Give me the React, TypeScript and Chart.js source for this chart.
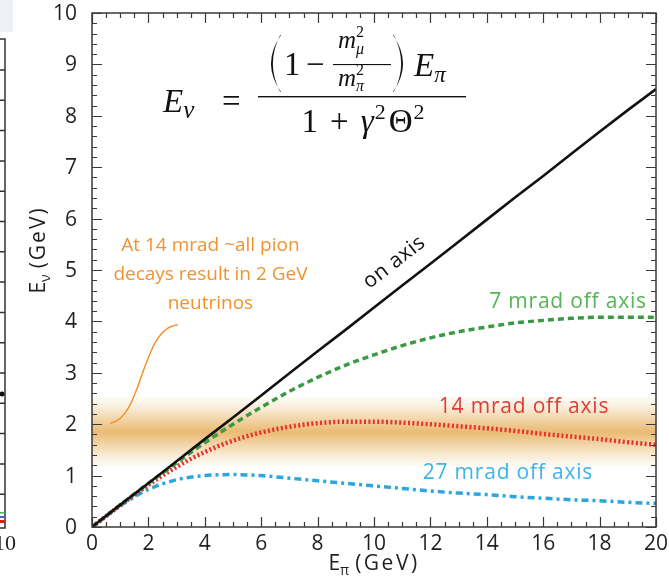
import React, { useEffect, useRef } from 'react';
import { Chart, registerables } from 'chart.js';
Chart.register(...registerables);

// ---------- data ----------
const ePion = [0, 1, 2, 3, 4, 5, 6, 7, 8, 9, 10, 11, 12, 13, 14, 15, 16, 17, 18, 19, 20];
const onAxis = [0, 0.43, 0.85, 1.28, 1.71, 2.13, 2.56, 2.99, 3.42, 3.84, 4.27, 4.7, 5.12, 5.55, 5.98, 6.41, 6.83, 7.26, 7.69, 8.11, 8.52];
const offAxis7 = [0, 0.43, 0.85, 1.25, 1.64, 2.0, 2.33, 2.64, 2.91, 3.15, 3.35, 3.53, 3.68, 3.8, 3.89, 3.97, 4.02, 4.06, 4.08, 4.08, 4.08];
const offAxis14 = [0, 0.42, 0.82, 1.17, 1.46, 1.68, 1.84, 1.95, 2.02, 2.05, 2.05, 2.03, 2.0, 1.96, 1.92, 1.87, 1.81, 1.76, 1.71, 1.65, 1.6];
const offAxis27 = [0, 0.41, 0.73, 0.92, 1.0, 1.02, 1.0, 0.95, 0.9, 0.85, 0.8, 0.75, 0.7, 0.66, 0.63, 0.59, 0.56, 0.53, 0.51, 0.48, 0.46];

const xTickStep = 2;
const yTickStep = 1;
const xRange = [0, 20];
const yRange = [0, 10];

const seriesNames = ['on axis', '7 mrad off axis', '14 mrad off axis', '27 mrad off axis'];
const bandRange = [1.15, 2.55];
const noteLines = ['At 14 mrad ~all pion', 'decays result in 2 GeV', 'neutrinos'];

// label anchors (data units)
const onAxisLabelAt = [10.72, 5.15];
const label7At = [16.88, 4.38];
const label14At = [15.32, 2.33];
const label27At = [14.75, 1.05];
const noteAt = [4.2, 5.47];
const noteCurve = [[0.64, 2.02], [1.8, 2.1], [1.75, 3.9], [3.05, 3.93]];

// ---------- styles ----------
const SANS = '"Open Sans", "Noto Sans", sans-serif';
const SERIF = '"Liberation Serif", "DejaVu Serif", serif';
const INK = '#231f20';
const BLACK = '#111111';
const GREEN = '#3a9a44';
const RED = '#e8302c';
const BLUE = '#2ba6de';
const GREEN_T = '#55b455';
const RED_T = '#e53a32';
const BLUE_T = '#3db3ea';
const ORANGE = '#f0932f';

const pts = (ys: number[]) => ePion.map((x, i) => ({ x, y: ys[i] }));

const bandPlugin = {
  id: 'band',
  beforeDatasetsDraw(chart: any) {
    const { ctx, chartArea, scales } = chart;
    const y = scales.y;
    const top = y.getPixelForValue(bandRange[1]);
    const bot = y.getPixelForValue(bandRange[0]);
    const g = ctx.createLinearGradient(0, top, 0, bot);
    g.addColorStop(0, 'rgba(228,170,80,0)');
    g.addColorStop(0.2, 'rgba(228,170,80,0.28)');
    g.addColorStop(0.5, 'rgba(228,170,80,0.8)');
    g.addColorStop(0.8, 'rgba(228,170,80,0.28)');
    g.addColorStop(1, 'rgba(228,170,80,0)');
    ctx.save();
    ctx.fillStyle = g;
    ctx.fillRect(chartArea.left, top, chartArea.right - chartArea.left, bot - top);
    ctx.restore();
  },
};

function textSpaced(ctx: any, t: string, x: number, y: number, spacing: string) {
  (ctx as any).letterSpacing = spacing;
  ctx.fillText(t, x, y);
  (ctx as any).letterSpacing = '0px';
}

const framePlugin = {
  id: 'frame',
  afterDatasetsDraw(chart: any) {
    const { ctx, chartArea, scales } = chart;
    const { left, right, top, bottom } = chartArea;
    const xs = scales.x, ys = scales.y;
    ctx.save();
    ctx.strokeStyle = '#3a3a3a';
    ctx.lineWidth = 1.5;
    ctx.strokeRect(left, top, right - left, bottom - top);
    ctx.lineWidth = 1.2;
    ctx.beginPath();
    for (let v = xRange[0]; v <= xRange[1] + 1e-6; v += 0.5) {
      const p = Math.round(xs.getPixelForValue(v)) + 0.5;
      const len = Math.abs(v % xTickStep) < 1e-6 ? 10 : 5;
      ctx.moveTo(p, bottom); ctx.lineTo(p, bottom - len);
      ctx.moveTo(p, top); ctx.lineTo(p, top + len);
    }
    for (let k = 0; k <= 50; k++) {
      const v = k * 0.2;
      const p = Math.round(ys.getPixelForValue(v)) + 0.5;
      const len = k % 5 === 0 ? 10 : 5;
      ctx.moveTo(left, p); ctx.lineTo(left + len, p);
      ctx.moveTo(right, p); ctx.lineTo(right - len, p);
    }
    ctx.stroke();

    // tick labels from the scales' own ticks
    ctx.fillStyle = INK;
    ctx.font = `21px ${SANS}`;
    ctx.textAlign = 'right';
    ctx.textBaseline = 'middle';
    for (const t of ys.ticks) ctx.fillText(String(t.value), left - 15, ys.getPixelForValue(t.value) + 1);
    ctx.textAlign = 'center';
    for (const t of xs.ticks) ctx.fillText(String(t.value), xs.getPixelForValue(t.value), bottom + 17);

    // annotation curve
    const P = noteCurve.map(([a, b]) => [xs.getPixelForValue(a), ys.getPixelForValue(b)]);
    ctx.strokeStyle = ORANGE;
    ctx.lineWidth = 1.5;
    ctx.beginPath();
    ctx.moveTo(P[0][0], P[0][1]);
    ctx.bezierCurveTo(P[1][0], P[1][1], P[2][0], P[2][1], P[3][0], P[3][1]);
    ctx.stroke();

    // note text
    ctx.fillStyle = ORANGE;
    ctx.font = `19px ${SANS}`;
    ctx.textAlign = 'center';
    ctx.textBaseline = 'middle';
    const nx = xs.getPixelForValue(noteAt[0]);
    const ny = ys.getPixelForValue(noteAt[1]);
    noteLines.forEach((t, i) => textSpaced(ctx, t, nx, ny + i * 29, '0px'));

    // series labels
    ctx.font = `21px ${SANS}`;
    const lbl = (t: string, at: number[], c: string) => {
      ctx.fillStyle = c;
      textSpaced(ctx, t, xs.getPixelForValue(at[0]), ys.getPixelForValue(at[1]), '0.8px');
    };
    lbl(seriesNames[1], label7At, GREEN_T);
    lbl(seriesNames[2], label14At, RED_T);
    lbl(seriesNames[3], label27At, BLUE_T);

    // on axis, rotated along the line
    const ang = Math.atan2(
      ys.getPixelForValue(onAxis[onAxis.length - 1]) - ys.getPixelForValue(onAxis[0]),
      xs.getPixelForValue(ePion[ePion.length - 1]) - xs.getPixelForValue(ePion[0])
    );
    ctx.save();
    ctx.translate(xs.getPixelForValue(onAxisLabelAt[0]), ys.getPixelForValue(onAxisLabelAt[1]));
    ctx.rotate(ang);
    ctx.fillStyle = BLACK;
    ctx.font = `21px ${SANS}`;
    textSpaced(ctx, seriesNames[0], 0, 0, '0.5px');
    ctx.restore();
    ctx.restore();
  },
};

function seq(ctx: any, x: number, y: number, parts: any[]) {
  for (const p of parts) {
    ctx.font = p.f;
    (ctx as any).letterSpacing = p.ls || '0px';
    ctx.fillText(p.t, x + (p.dx || 0), y + (p.dy || 0));
    if (!p.stack) x += ctx.measureText(p.t).width + (p.dx || 0) + (p.gap || 0);
  }
  (ctx as any).letterSpacing = '0px';
  return x;
}
function seqWidth(ctx: any, parts: any[]) {
  let w = 0;
  for (const p of parts) {
    ctx.font = p.f;
    (ctx as any).letterSpacing = p.ls || '0px';
    if (!p.stack) w += ctx.measureText(p.t).width + (p.dx || 0) + (p.gap || 0);
  }
  (ctx as any).letterSpacing = '0px';
  return w;
}
// thin tall parenthesis (crescent)
function paren(ctx: any, xEdge: number, yTop: number, yBot: number, dir: number) {
  const mid = (yTop + yBot) / 2;
  ctx.beginPath();
  ctx.moveTo(xEdge, yTop);
  ctx.quadraticCurveTo(xEdge - dir * 20, mid, xEdge, yBot);
  ctx.lineTo(xEdge - dir * 0.8, yBot);
  ctx.quadraticCurveTo(xEdge - dir * 15.5, mid, xEdge - dir * 0.8, yTop);
  ctx.closePath();
  ctx.fill();
}

const decoPlugin = {
  id: 'deco',
  afterDraw(chart: any) {
    const { ctx, chartArea } = chart;
    const { left, right } = chartArea;
    ctx.save();
    ctx.fillStyle = BLACK;
    ctx.textAlign = 'left';
    ctx.textBaseline = 'alphabetic';

    // ---- formula ----
    const it32 = `italic 33px ${SERIF}`;
    const up32 = `33px ${SERIF}`;
    const it22 = `italic 23px ${SERIF}`;
    const it24 = `italic 25px ${SERIF}`;
    const itm = `italic 25px ${SERIF}`;
    const up16 = `16px ${SERIF}`;
    const it16 = `italic 16px ${SERIF}`;
    const up22 = `22px ${SERIF}`;
    seq(ctx, 163, 112, [{ t: 'E', f: it32 }, { t: 'ν', f: it24, dy: 6 }]);
    seq(ctx, 222, 112, [{ t: '=', f: up32 }]);
    ctx.fillRect(258, 96, 208, 1.4);
    paren(ctx, 281, 35, 92, 1);
    seq(ctx, 284, 75, [{ t: '1', f: up32 }]);
    seq(ctx, 306, 75, [{ t: '−', f: up32 }]);
    // small fraction
    seq(ctx, 338, 48, [{ t: 'm', f: itm }, { t: '2', f: up16, dy: -11, stack: true }, { t: 'μ', f: it16, dy: 6 }]);
    ctx.fillRect(333, 64, 58, 1.1);
    seq(ctx, 338, 86, [{ t: 'm', f: itm }, { t: '2', f: up16, dy: -11, stack: true }, { t: 'π', f: it16, dy: 5 }]);
    paren(ctx, 393, 35, 92, -1);
    seq(ctx, 414, 76, [{ t: 'E', f: it32 }, { t: 'π', f: it22, dy: 6 }]);
    const den = [
      { t: '1', f: up32, gap: 12 }, { t: '+', f: up32, gap: 12 },
      { t: 'γ', f: it32, gap: 1 }, { t: '2', f: up22, dy: -13, gap: 3 },
      { t: 'Θ', f: up32, gap: 1 }, { t: '2', f: up22, dy: -13 },
    ];
    const dw = seqWidth(ctx, den);
    seq(ctx, 363 - dw / 2, 132, den);

    // ---- axis titles ----
    const sE = `21px ${SANS}`;
    const sSub = `14px ${SANS}`;
    const xt = [{ t: 'E', f: sE }, { t: 'π', f: sSub, dy: 5, gap: 6 }, { t: '(GeV)', f: sE, ls: '2.5px' }];
    ctx.fillStyle = INK;
    const xw = seqWidth(ctx, xt);
    seq(ctx, (left + right) / 2 - xw / 2, 570, xt);
    const yt = [{ t: 'E', f: sE }, { t: 'ν', f: sSub, dy: 5, gap: 6 }, { t: '(GeV)', f: sE, ls: '2px' }];
    const yw = seqWidth(ctx, yt);
    ctx.save();
    ctx.translate(45, 250);
    ctx.rotate(-Math.PI / 2);
    seq(ctx, -yw / 2, 0, yt);
    ctx.restore();

    // ---- fragment of neighbouring figure at the left edge ----
    ctx.fillStyle = '#eef0f8';
    ctx.fillRect(0, 0, 13, 32);
    ctx.strokeStyle = '#333';
    ctx.lineWidth = 1.5;
    ctx.beginPath();
    ctx.moveTo(0, 39); ctx.lineTo(5, 39); ctx.lineTo(5, 528); ctx.lineTo(0, 528);
    for (let yy = 70; yy < 520; yy += 30.3) { ctx.moveTo(0, yy); ctx.lineTo(5, yy); }
    ctx.stroke();
    ctx.fillStyle = '#111';
    ctx.beginPath(); ctx.arc(2, 394, 2.5, 0, Math.PI * 2); ctx.fill();
    ctx.fillStyle = '#4caf50'; ctx.fillRect(0, 512, 5, 1.5);
    ctx.fillStyle = '#5560c0'; ctx.fillRect(0, 516, 5, 2);
    ctx.fillStyle = '#d02020'; ctx.fillRect(0, 520, 5, 3);
    ctx.fillStyle = '#222';
    ctx.font = `22px ${SERIF}`;
    ctx.fillText('10', -6, 550);
    ctx.restore();
  },
};

export default function App() {
  const ref = useRef<HTMLCanvasElement>(null);
  useEffect(() => {
    const canvas = ref.current;
    if (!canvas) return;
    const chart = new Chart(canvas, {
      type: 'line',
      data: {
        datasets: [
          { label: seriesNames[0], data: pts(onAxis), borderColor: BLACK, borderWidth: 2.6, pointRadius: 0, tension: 0 },
          { label: seriesNames[1], data: pts(offAxis7), borderColor: GREEN, borderWidth: 3.5, borderDash: [6, 4], pointRadius: 0, cubicInterpolationMode: 'monotone' },
          { label: seriesNames[2], data: pts(offAxis14), borderColor: RED, borderWidth: 4.5, borderDash: [2, 2.4], pointRadius: 0, cubicInterpolationMode: 'monotone' },
          { label: seriesNames[3], data: pts(offAxis27), borderColor: BLUE, borderWidth: 3.5, borderDash: [7, 4, 3, 4], pointRadius: 0, cubicInterpolationMode: 'monotone' },
        ],
      } as any,
      options: {
        animation: false,
        responsive: false,
        maintainAspectRatio: false,
        layout: { autoPadding: false, padding: { left: 0, right: 13, top: 13, bottom: 0 } },
        plugins: { legend: { display: false }, tooltip: { enabled: false } },
        scales: {
          x: {
            type: 'linear', min: xRange[0], max: xRange[1],
            grid: { display: false, drawTicks: false },
            border: { display: false },
            ticks: { stepSize: xTickStep, display: false },
            afterFit: (s: any) => { s.height = 49; },
          },
          y: {
            type: 'linear', min: yRange[0], max: yRange[1],
            grid: { display: false, drawTicks: false },
            border: { display: false },
            ticks: { stepSize: yTickStep, display: false },
            afterFit: (s: any) => { s.width = 92; },
          },
        },
      } as any,
      plugins: [bandPlugin, framePlugin, decoPlugin],
    });
    return () => chart.destroy();
  }, []);
  return (
    <div style={{ position: 'fixed', left: 0, top: 0, width: 669, height: 576, background: '#fff' }}>
      <canvas ref={ref} width={669} height={576} style={{ display: 'block', width: 669, height: 576 }} />
    </div>
  );
}
